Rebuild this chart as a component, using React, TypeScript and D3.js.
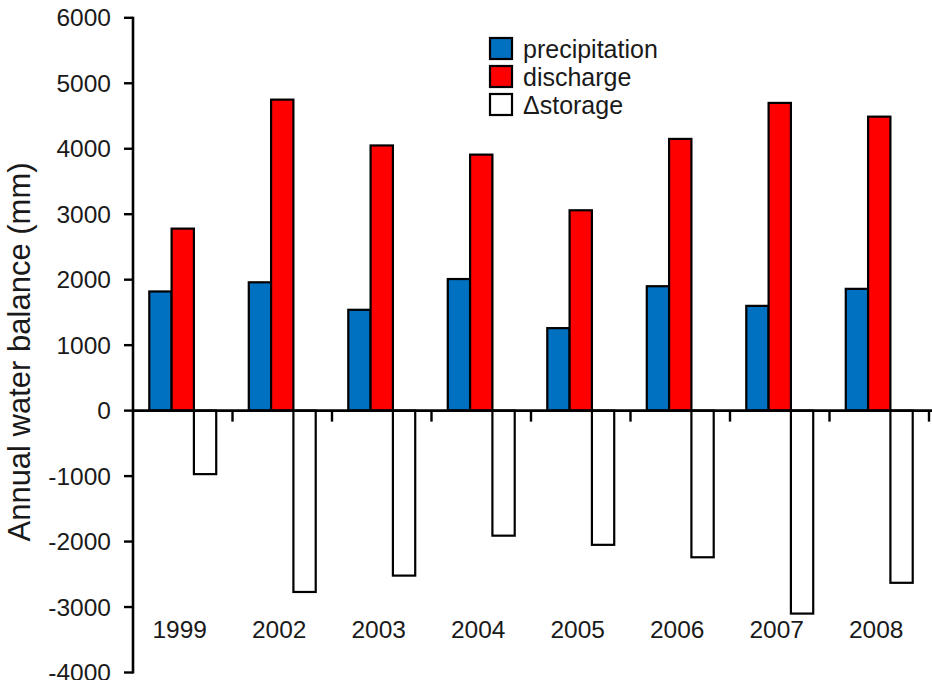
import React, { useRef, useEffect } from "react";
import * as d3 from "d3";

const years = ["1999", "2002", "2003", "2004", "2005", "2006", "2007", "2008"];
const seriesNames = ["precipitation", "discharge", "\u0394storage"];
const precipitation = [1820, 1960, 1540, 2010, 1260, 1900, 1600, 1860];
const discharge = [2780, 4750, 4050, 3910, 3060, 4150, 4700, 4490];
const storage = [-970, -2770, -2520, -1910, -2050, -2240, -3100, -2630];
const seriesColors = ["#0070C0", "#FF0000", "#FFFFFF"];
const yTicks = [-4000, -3000, -2000, -1000, 0, 1000, 2000, 3000, 4000, 5000, 6000];

const FONT = "'Liberation Sans', Arial, sans-serif";

const WaterBalanceChart: React.FC = () => {
    const chartRef = useRef<SVGSVGElement>(null);

    useEffect(() => {
        if (!chartRef.current) return;
        const svg = d3.select(chartRef.current);
        svg.selectAll("*").remove();

        const width = 932;
        const height = 680;

        const y = d3.scaleLinear().domain([-4000, 6000]).range([672.5, 17.8]);
        const x0 = d3.scaleBand<string>().domain(years).range([133, 929]).padding(0);
        const x1 = d3.scaleBand<string>()
            .domain(seriesNames)
            .range([0, x0.bandwidth()])
            .paddingInner(0)
            .paddingOuter(0.73);

        svg.attr("width", width).attr("height", height);

        const values = [precipitation, discharge, storage];
        const rows = years.map((yr, i) => ({
            year: yr,
            bars: seriesNames.map((s, k) => ({ name: s, value: values[k][i], color: seriesColors[k] })),
        }));

        // bars
        const groups = svg.append("g")
            .selectAll("g")
            .data(rows)
            .enter()
            .append("g")
            .attr("transform", d => `translate(${x0(d.year)},0)`);

        groups.selectAll("rect")
            .data(d => d.bars)
            .enter()
            .append("rect")
            .attr("x", d => x1(d.name)!)
            .attr("width", x1.bandwidth())
            .attr("y", d => y(Math.max(0, d.value)))
            .attr("height", d => Math.abs(y(d.value) - y(0)))
            .attr("fill", d => d.color)
            .attr("stroke", "#000")
            .attr("stroke-width", 2.2);

        // y axis
        const yAxis = svg.append("g");
        yAxis.append("line")
            .attr("x1", 133).attr("x2", 133)
            .attr("y1", y(6000) - 1).attr("y2", y(-4000) + 1)
            .attr("stroke", "#000").attr("stroke-width", 2.6);
        yAxis.selectAll("line.tick")
            .data(yTicks)
            .enter()
            .append("line")
            .attr("class", "tick")
            .attr("x1", 124).attr("x2", 133)
            .attr("y1", d => y(d)).attr("y2", d => y(d))
            .attr("stroke", "#000").attr("stroke-width", 2.4);
        yAxis.selectAll("text")
            .data(yTicks)
            .enter()
            .append("text")
            .attr("x", 111)
            .attr("y", d => y(d))
            .attr("dy", "0.35em")
            .attr("text-anchor", "end")
            .style("font-family", FONT)
            .style("font-size", "24.5px")
            .attr("fill", "#1a1a1a")
            .text(d => String(d));

        // x axis at zero
        const xAxis = svg.append("g");
        xAxis.append("line")
            .attr("x1", 133).attr("x2", 932)
            .attr("y1", y(0)).attr("y2", y(0))
            .attr("stroke", "#000").attr("stroke-width", 2.6);
        xAxis.selectAll("line.tick")
            .data(years.slice(1).map(yr => x0(yr)!).concat([x0.range()[1]]))
            .enter()
            .append("line")
            .attr("class", "tick")
            .attr("x1", d => d).attr("x2", d => d)
            .attr("y1", y(0)).attr("y2", y(0) + 11)
            .attr("stroke", "#000").attr("stroke-width", 2.4);
        xAxis.selectAll("text")
            .data(years)
            .enter()
            .append("text")
            .attr("x", d => x0(d)! + x0.bandwidth() / 2 - 3)
            .attr("y", 638)
            .attr("text-anchor", "middle")
            .style("font-family", FONT)
            .style("font-size", "24.5px")
            .attr("fill", "#1a1a1a")
            .text(d => d);

        // y axis title
        svg.append("text")
            .attr("transform", "translate(30,352) rotate(-90)")
            .attr("text-anchor", "middle")
            .style("font-family", FONT)
            .style("font-size", "31px")
            .attr("fill", "#1a1a1a")
            .text("Annual water balance (mm)");

        // legend
        const legend = svg.append("g")
            .selectAll("g")
            .data(seriesNames)
            .enter()
            .append("g")
            .attr("transform", (d, i) => `translate(490,${38 + i * 28})`);
        legend.append("rect")
            .attr("width", 22)
            .attr("height", 21)
            .attr("fill", (d, i) => seriesColors[i])
            .attr("stroke", "#000")
            .attr("stroke-width", 2.2);
        legend.append("text")
            .attr("x", 33)
            .attr("y", 11)
            .attr("dy", "0.35em")
            .style("font-family", FONT)
            .style("font-size", "25px")
            .attr("fill", "#1a1a1a")
            .text(d => d);
    }, []);

    return <svg ref={chartRef} style={{ display: "block" }}></svg>;
};

export default function App() {
    return (
        <div style={{ position: "absolute", left: 0, top: 0, width: 932, height: 680, background: "#fff" }}>
            <WaterBalanceChart />
        </div>
    );
}
